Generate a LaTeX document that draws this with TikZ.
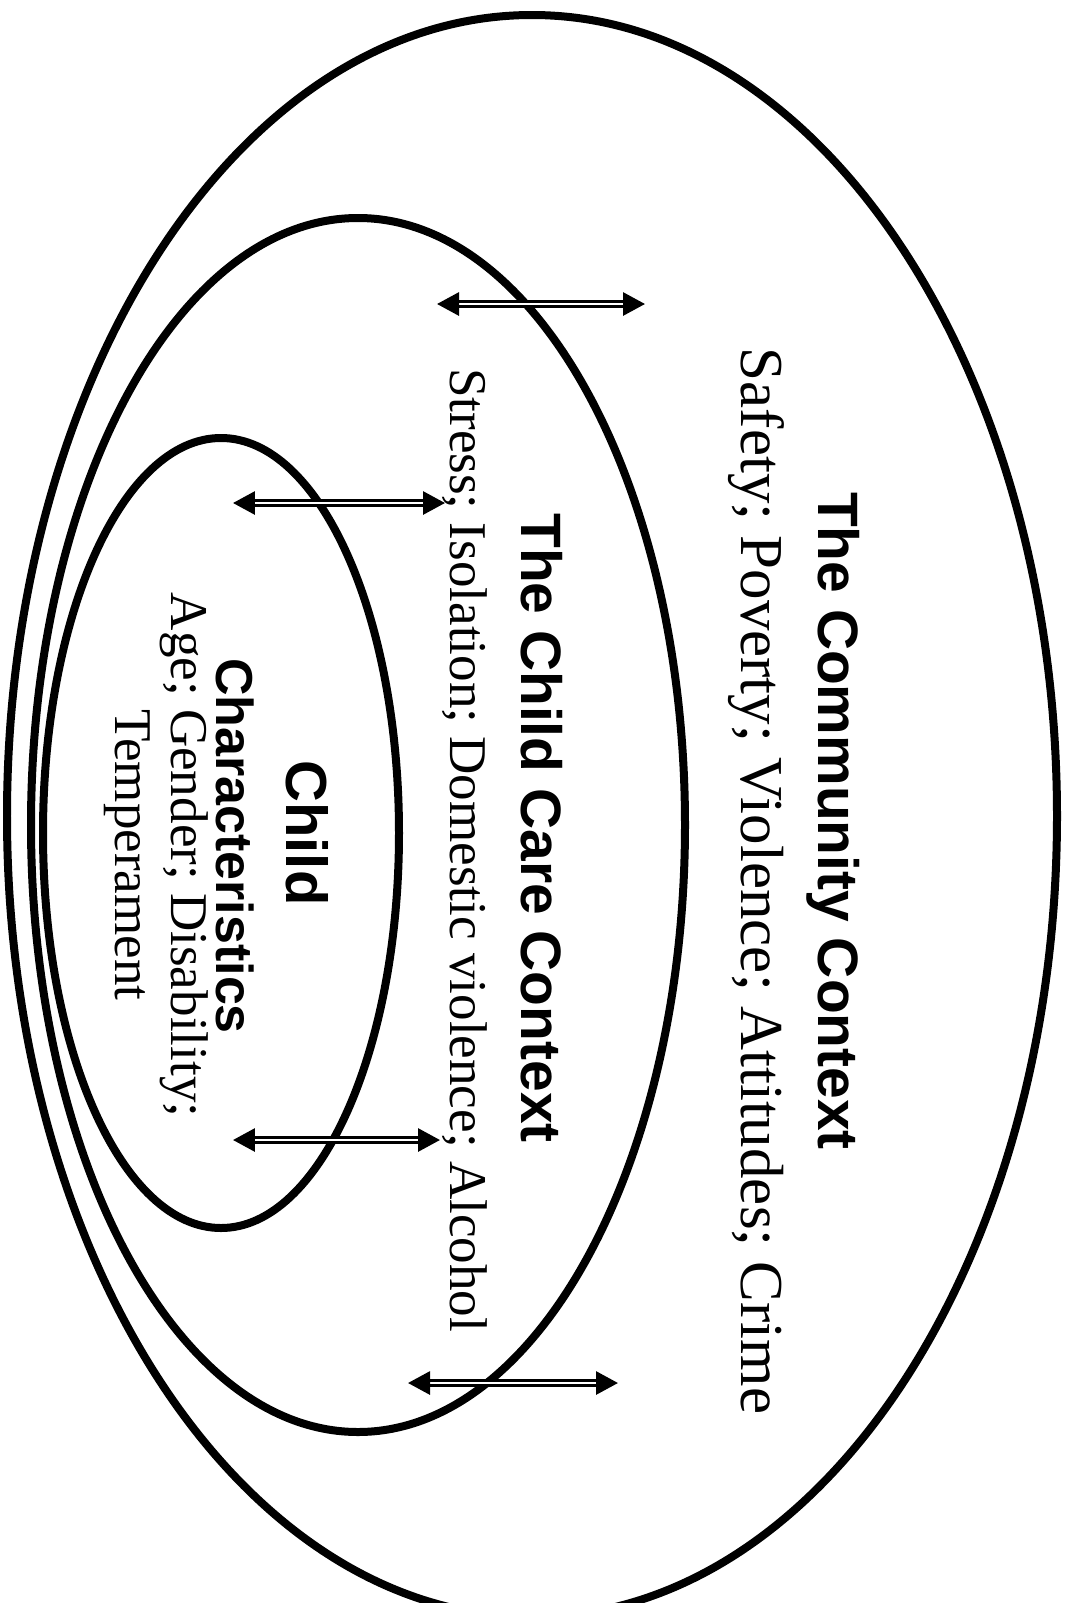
\documentclass[tikz,border=0pt]{standalone}
\usepackage{fontspec}
\setmainfont{Liberation Serif}
\newfontfamily\headfont{Liberation Sans}
\usetikzlibrary{arrows.meta}

\tikzset{
  ring/.style={line width=0.16cm},
  link/.style={double, double distance=0.025cm, line width=0.06cm,
    {Triangle[length=0.44cm,width=0.46cm]}-{Triangle[length=0.44cm,width=0.46cm]}},
  heading/.style={rotate=-90, inner sep=0pt, font=\headfont\bfseries\fontsize{32.4}{36}\selectfont},
  childhead/.style={rotate=-90, inner sep=0pt, font=\headfont\bfseries\fontsize{29.6}{33}\selectfont},
  factors/.style={rotate=-90, inner sep=0pt, align=center, font=\fontsize{30.2}{32}\selectfont},
}

\begin{document}
\begin{tikzpicture}[x=0.02cm, y=0.02cm]
        \useasboundingbox (0,0) rectangle (1069,-1603);

        % the three contexts
        \begin{scope}
            \clip (0,0) rectangle (1069,-1603);
            \draw[ring] (532,-816) ellipse [x radius=525, y radius=801];
        \end{scope}
        \draw[ring] (358,-825) ellipse [x radius=327, y radius=607];
        \draw[ring] (221,-833) ellipse [x radius=178, y radius=395];

        \node[heading] (community) at (833,-821) {The Community Context};
        \node[factors, font=\fontsize{34.7}{36}\selectfont] (communityrisk) at (756,-881) {Safety; Poverty; Violence; Attitudes; Crime};
        \node[heading] (childcare) at (542,-828) {The Child Care Context};
        \node[factors] (childcarerisk) at (465,-850) {Stress; Isolation; Domestic violence; Alcohol};
        \node[childhead, font=\headfont\bfseries\fontsize{33}{36}\selectfont] (child) at (307,-833) {Child};
        \node[childhead] (childchar) at (235,-846) {Characteristics};
        \node[factors] (childrisk) at (156,-855) {Age; Gender; Disability;\\Temperament};

        % arrow ends
        \coordinate (a1l) at (437,-304);
        \coordinate (a1r) at (645,-304);
        \coordinate (a2l) at (233,-503);
        \coordinate (a2r) at (445,-503);
        \coordinate (a3l) at (233,-1140);
        \coordinate (a3r) at (440,-1140);
        \coordinate (a4l) at (408,-1383);
        \coordinate (a4r) at (618,-1383);

        \draw[link] (a1l) -- (a1r);
        \draw[link] (a2l) -- (a2r);
        \draw[link] (a3l) -- (a3r);
        \draw[link] (a4l) -- (a4r);
\end{tikzpicture}
\end{document}
